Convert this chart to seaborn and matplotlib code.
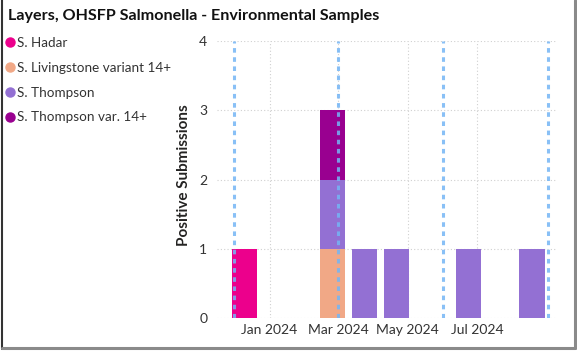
import pandas as pd
import numpy as np
import matplotlib
matplotlib.use('Agg')
import matplotlib.pyplot as plt
import matplotlib.dates as mdates
from matplotlib.lines import Line2D
import seaborn as sns

# data
serotypes = ["S. Hadar", "S. Livingstone variant 14+", "S. Thompson", "S. Thompson var. 14+"]
colors = ["#EC008C", "#F1A886", "#9370D3", "#990090"]

week = ["2023-12-10", "2024-02-25", "2024-02-25", "2024-02-25",
        "2024-03-24", "2024-04-21", "2024-06-23", "2024-08-18"]
serotype = ["S. Hadar", "S. Livingstone variant 14+", "S. Thompson", "S. Thompson var. 14+",
            "S. Thompson", "S. Thompson", "S. Thompson", "S. Thompson"]
submissions = [1, 1, 1, 1, 1, 1, 1, 1]

season_starts = ["2023-12-01", "2024-03-01", "2024-06-01", "2024-09-01"]
month_ticks = ["2024-01-01", "2024-03-01", "2024-05-01", "2024-07-01"]
x_range = ["2023-11-16", "2024-09-08"]

df = pd.DataFrame({'week': pd.to_datetime(week), 'serotype': serotype, 'count': submissions})
df['num'] = mdates.date2num(df['week'])

# bins of ~22 days centred on each week
half = 11
edges = []
for d in sorted(df['num'].unique()):
    edges += [d - half, d + half]

sns.set_style("white")
plt.rcParams['font.family'] = ['Lato', 'DejaVu Sans']

fig = plt.figure(figsize=(5.77, 3.51), dpi=100)
ax = fig.add_axes([217 / 577, 1 - 318.3 / 351, (556 - 217) / 577, (318.3 - 41) / 351])

sns.histplot(data=df, x='num', weights='count', hue='serotype',
             hue_order=serotypes[::-1], palette=dict(zip(serotypes, colors)),
             multiple='stack', bins=edges, alpha=1, linewidth=0, legend=False, ax=ax)

for s in season_starts:
    ax.axvline(mdates.date2num(pd.Timestamp(s)), color='#74B5F5', linestyle=(0, (1.5, 1.5)),
               linewidth=2.2, alpha=0.85, zorder=5)

ax.set_xlim(mdates.date2num(pd.Timestamp(x_range[0])), mdates.date2num(pd.Timestamp(x_range[1])))
ax.set_ylim(0, 4)
ax.set_yticks([0, 1, 2, 3, 4])
ax.set_xticks(mdates.date2num(pd.to_datetime(month_ticks)))
ax.xaxis.set_major_formatter(mdates.DateFormatter('%b %Y'))
ax.grid(True, color='#D0D0D0', linestyle=(0, (1, 2)), linewidth=0.8)
ax.set_axisbelow(True)
sns.despine(ax=ax, left=True, bottom=True)
ax.tick_params(axis='both', length=0, colors='#333333', labelsize=10)
ax.tick_params(axis='y', pad=7)
ax.tick_params(axis='x', pad=4)
ax.set_xlabel("")
ax.set_ylabel("Positive Submissions", fontsize=11, fontweight='bold', color='#252423')
ax.yaxis.set_label_coords(-0.077, 0.515)

fig.text(8 / 577, 1 - 16 / 351, "Layers, OHSFP Salmonella - Environmental Samples",
         fontsize=11.6, fontweight='bold', color='#111111', va='center', ha='left')

handles = [Line2D([], [], marker='o', color=c, linestyle='', markersize=6.5) for c in colors]
fig.legend(handles, serotypes, loc='upper left', bbox_to_anchor=(6 / 577, 1 - 37 / 351),
           frameon=False, fontsize=9.7, handlelength=0.6, handletextpad=0.2,
           labelspacing=0.95, borderpad=0, borderaxespad=0, labelcolor='#333333')

# card border
fig.add_artist(Line2D([2 / 577, 2 / 577], [2 / 351, 1], color='#333333', linewidth=1.5, transform=fig.transFigure))
fig.add_artist(Line2D([575 / 577, 575 / 577], [3 / 351, 1], color='#8A8A8A', linewidth=2.2, transform=fig.transFigure))
fig.add_artist(Line2D([2 / 577, 575 / 577], [3 / 351, 3 / 351], color='#8A8A8A', linewidth=2.2, transform=fig.transFigure))

fig.savefig('out.png', dpi=100)
